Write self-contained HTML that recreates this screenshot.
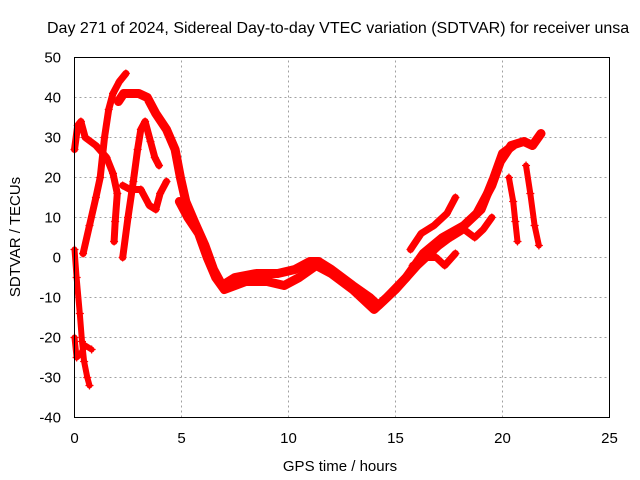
<!DOCTYPE html>
<html><head><meta charset="utf-8"><style>
html,body{margin:0;padding:0;background:#fff;}
svg{display:block;font-family:"Liberation Sans",sans-serif;}
</style></head><body>
<svg id="chart" width="640" height="480" viewBox="0 0 640 480" xmlns="http://www.w3.org/2000/svg">
<rect width="640" height="480" fill="#fff"/>
<text x="47" y="33" font-size="16" fill="#000">Day 271 of 2024, Sidereal Day-to-day VTEC variation (SDTVAR) for receiver unsa</text>
<g id="grid"></g>
<g id="series"></g>
<rect x="74.5" y="57.5" width="535" height="360" fill="none" stroke="#000" stroke-width="1"/>
<g id="ticks"></g>
<text x="340" y="471" font-size="15" text-anchor="middle">GPS time / hours</text>
<text transform="translate(20,237) rotate(-90)" font-size="15" text-anchor="middle">SDTVAR / TECUs</text>
</svg>
<script>
const xTicks=[0,5,10,15,20,25];
const yTicks=[-40,-30,-20,-10,0,10,20,30,40,50];
const trackA=[[0,27],[0.15,33],[0.3,34],[0.5,30],[1.0,28],[1.5,25],[1.8,21],[2.0,16],[1.9,9],[1.85,4]];
const trackB=[[0.4,1],[0.7,8],[1.0,15],[1.2,20],[1.4,30],[1.6,37],[1.8,41],[2.1,44],[2.4,46]];
const trackC=[[2.05,39],[2.3,41],[3.0,41],[3.4,40],[3.8,36],[4.3,32],[4.7,27],[4.95,20],[5.2,14],[5.6,9],[6.1,3],[6.5,-3],[6.9,-7],[7.5,-5],[8.5,-4],[9.5,-4],[10.3,-3],[11.0,-1],[11.4,-1],[12.0,-3],[13.0,-7],[13.8,-10],[14.2,-12],[15.0,-8],[16.0,-2],[17.0,3],[18.0,7],[18.8,11],[19.5,18],[19.9,24],[20.4,28],[21.0,29],[21.4,28],[21.8,31]];
const trackC2=[[4.9,14],[5.3,10],[5.8,6],[6.2,0],[6.6,-5],[7.0,-8],[8.0,-6],[9.0,-6],[9.8,-7],[10.5,-5],[11.3,-2],[12.0,-4],[13.0,-8],[14.0,-13],[14.6,-10],[15.5,-5],[16.3,1],[17.2,5],[18.2,8],[19.0,12],[19.6,20],[20.0,26],[20.5,28]];
const trackD=[[2.25,0],[2.5,10],[2.75,19],[2.95,27],[3.1,32],[3.3,34],[3.55,29],[3.75,25],[3.95,23]];
const trackE=[[2.25,18],[2.6,17],[3.1,17],[3.5,13],[3.8,12],[4.0,16],[4.3,19]];
const trackF=[[0.0,2],[0.1,-5],[0.25,-14],[0.35,-21],[0.45,-26],[0.6,-30],[0.7,-32]];
const trackF2=[[0.0,-20],[0.1,-25],[0.3,-24],[0.5,-22],[0.8,-23]];
const trackG=[[15.8,-2],[16.4,0],[16.9,0],[17.3,-2],[17.8,1]];
const trackH=[[15.7,2],[16.2,6],[16.8,8],[17.4,11],[17.8,15]];
const trackI=[[17.6,5],[18.2,7],[18.7,5],[19.1,7],[19.5,10]];
const trackJ=[[20.3,20],[20.5,14],[20.6,9],[20.7,4]];
const trackK=[[21.1,23],[21.3,16],[21.5,8],[21.7,3]];
const tracks=[trackA,trackB,trackC,trackC2,trackD,trackE,trackF,trackF2,trackG,trackH,trackI,trackJ,trackK];
const widths=[7,7,9,9,7,7,6,6,7,7,7,6,6];

const X0=74.5,X1=609.5,Y0=417.5,Y1=57.5;
function xs(v){return X0+(v-0)/(25-0)*(X1-X0);}
function ys(v){return Y0-(v+40)/(50+40)*(Y0-Y1);}
const NS="http://www.w3.org/2000/svg";
const grid=document.getElementById('grid'),ticks=document.getElementById('ticks'),ser=document.getElementById('series');
function mk(t,a,p){const e=document.createElementNS(NS,t);for(const k in a)e.setAttribute(k,a[k]);p.appendChild(e);return e;}
xTicks.forEach(t=>{
  const x=xs(t);
  if(t>0&&t<25){const g=mk('line',{x1:x,x2:x,y1:Y0,y2:Y1,stroke:'#a0a0a0','stroke-dasharray':'2,3'},grid);
  
  }
  const l=mk('text',{x:x,y:443,'font-size':15,'text-anchor':'middle'},ticks);l.textContent=t;
  
  
});
yTicks.forEach(t=>{
  const y=ys(t);
  if(t>-40&&t<50){const g=mk('line',{x1:X0,x2:X1,y1:y,y2:y,stroke:'#a0a0a0','stroke-dasharray':'2,3'},grid);
  
  }
  const l=mk('text',{x:61,y:y+5,'font-size':15,'text-anchor':'end'},ticks);l.textContent=t;
  
  
});
tracks.forEach((tr,i)=>{
  const pts=tr.map(p=>xs(p[0]).toFixed(1)+','+ys(p[1]).toFixed(1)).join(' ');
  const pl=mk('polyline',{points:pts,fill:'none',stroke:'#ff0000','stroke-width':widths[i],'stroke-linejoin':'round','stroke-linecap':'round'},ser);
  
  
  tr.forEach(p=>{
    const x=xs(p[0]),y=ys(p[1]);
    const m=mk('path',{d:`M${x-4},${y}h8M${x},${y-4}v8`,stroke:'#ff0000','stroke-width':1.2},ser);
    
    
  });
});
</script>
</body></html>
